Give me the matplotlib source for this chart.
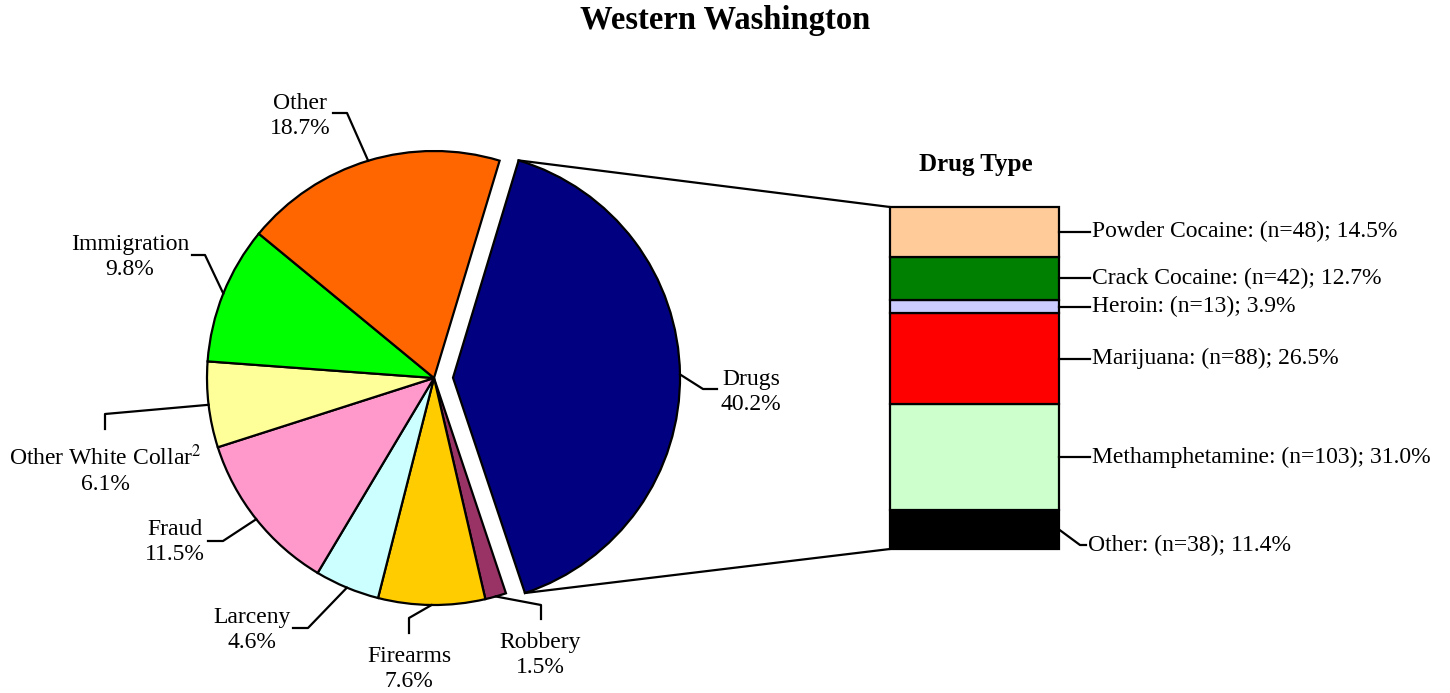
import numpy as np
import matplotlib.pyplot as plt

plt.rcParams['font.family'] = ['Liberation Serif', 'DejaVu Serif']
plt.rcParams['mathtext.fontset'] = 'stix'

W, H = 1450, 693

# offense types, clockwise from the exploded slice
offense_labels = ['Drugs', 'Robbery', 'Firearms', 'Larceny', 'Fraud',
                  'Other White Collar$^{2}$', 'Immigration', 'Other']
offense_pct = [40.2, 1.5, 7.6, 4.6, 11.5, 6.1, 9.8, 18.7]
offense_colors = ['#000080', '#993366', '#FFCC00', '#CCFFFF', '#FF99CC',
                  '#FFFF99', '#00FF00', '#FF6600']

# drug breakdown, bottom to top of the bar
drug_types = ['Other', 'Methamphetamine', 'Marijuana', 'Heroin',
              'Crack Cocaine', 'Powder Cocaine']
drug_n = [38, 103, 88, 13, 42, 48]
drug_pct = [11.4, 31.0, 26.5, 3.9, 12.7, 14.5]
drug_colors = ['#000000', '#CCFFCC', '#FF0000', '#CCCCFF', '#008000', '#FFCC99']


def Y(y):
    # picture rows (down) -> data y (up)
    return H - y


FS = 17
LW = 1.6

fig = plt.figure(figsize=(W / 100, H / 100), dpi=100)
ax = fig.add_axes([0, 0, 1, 1])

pie_c = (434, Y(378))
pie_r = 227
# pie() offsets wedges by explode in data units
explode = [19] + [0] * (len(offense_pct) - 1)
wedges, _ = ax.pie(offense_pct, colors=offense_colors, startangle=73.2,
                   counterclock=False, explode=explode, center=pie_c,
                   radius=pie_r, normalize=True,
                   wedgeprops=dict(edgecolor='black', linewidth=LW))

# label layout: (elbow, end of leader, text centre), picture coords
label_pos = [
    ((703, 389), (717, 389), (751, 392)),
    ((541, 605), (541, 619), (540, 655)),
    ((409, 618), (409, 633), (409, 669)),
    ((308, 628), (293, 628), (252, 630)),
    ((223, 541), (208, 541), (175, 542)),
    ((105, 414), (105, 429), (105, 470)),
    ((205, 255), (192, 255), (130, 257)),
    ((347, 113), (333, 113), (300, 116)),
]

for w, lab, pct, (elb, end, txt) in zip(wedges, offense_labels, offense_pct, label_pos):
    mid = np.deg2rad((w.theta1 + w.theta2) / 2)
    ex = w.center[0] + w.r * np.cos(mid)
    ey = w.center[1] + w.r * np.sin(mid)
    ax.plot([ex, elb[0], end[0]], [ey, Y(elb[1]), Y(end[1])], color='black', lw=LW)
    ax.text(txt[0], Y(txt[1]), f'{lab}\n{pct:.1f}%', ha='center', va='center',
            fontsize=FS, multialignment='center', linespacing=1.2)

# stacked bar for the drug breakdown
bar_x0, bar_x1 = 890, 1059
bar_top, bar_bot = 207, 549
scale = (bar_bot - bar_top) / sum(drug_pct)
heights = np.array(drug_pct) * scale
bottoms = Y(bar_bot) + np.concatenate([[0], np.cumsum(heights)[:-1]])
bars = ax.bar((bar_x0 + bar_x1) / 2, heights, width=bar_x1 - bar_x0,
              bottom=bottoms, color=drug_colors, edgecolor='black', linewidth=LW)

for b, name, n, pct in zip(bars, drug_types, drug_n, drug_pct):
    ym = b.get_y() + b.get_height() / 2
    xr = b.get_x() + b.get_width()
    if name == 'Other':
        xs, ys = [xr, xr + 21, xr + 27], [ym, Y(545), Y(545)]
    else:
        xs, ys = [xr, xr + 31], [ym, ym]
    ax.plot(xs, ys, color='black', lw=LW)
    ax.text(xs[-1] + 2, ys[-1], f'{name}: (n={n}); {pct:.1f}%', ha='left',
            va='center', fontsize=FS)

# connector lines from exploded slice to the bar
dw = wedges[0]
for ang, by in [(dw.theta2, bars[-1].get_y() + bars[-1].get_height()),
                (dw.theta1, bars[0].get_y())]:
    a = np.deg2rad(ang)
    ax.plot([dw.center[0] + dw.r * np.cos(a), bar_x0],
            [dw.center[1] + dw.r * np.sin(a), by], color='black', lw=LW)

ax.text(976, Y(165), 'Drug Type', ha='center', va='center', fontsize=18,
        fontweight='bold')
ax.text(725, Y(20), 'Western Washington', ha='center', va='center',
        fontsize=23.5, fontweight='bold')

ax.set_xlim(0, W)
ax.set_ylim(0, H)
ax.set_aspect('auto')
ax.axis('off')

fig.savefig('out.png', dpi=100)
